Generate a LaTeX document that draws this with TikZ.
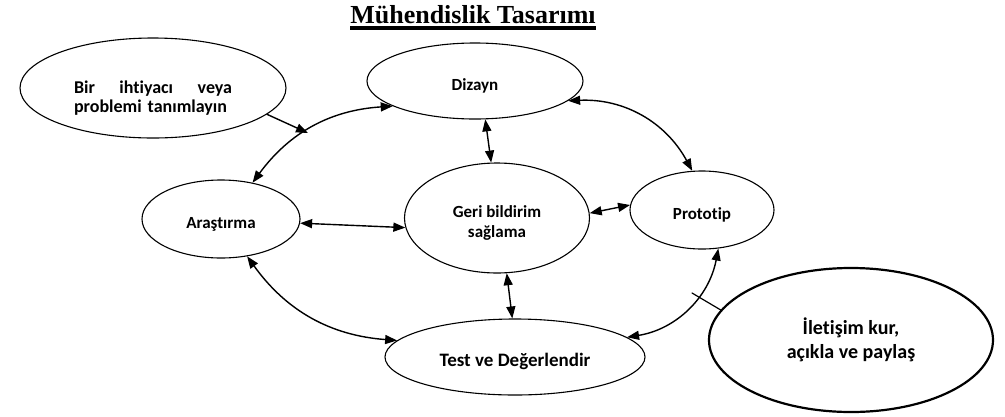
\documentclass[tikz,border=0pt]{standalone}
\usepackage{fontspec}
\setmainfont{Carlito}[RawFeature={-liga;-clig}]
\newfontfamily\baslikfont{Liberation Serif}
\usetikzlibrary{shapes.geometric,arrows.meta}

\begin{document}
\begin{tikzpicture}[x=1pt,y=-1pt,line join=round,line cap=round,>={Triangle[length=12pt,width=9pt]},
		kutu/.style={draw,ellipse,line width=1.1pt,inner sep=0pt,align=center,font=\bfseries\fontsize{17}{20}\selectfont},
		tek/.style={text height=19pt,text depth=0pt},
		bag/.style={line width=1.4pt}]
	\useasboundingbox (0,0) rectangle (1005,416);
	\node[inner sep=0pt,anchor=base,font=\baslikfont\bfseries\fontsize{26}{30}\selectfont] (baslik) at (473,23) {Mühendislik Tasarımı};
	\draw[line width=3.2pt,line cap=butt] ([yshift=-5pt]baslik.base west)--([yshift=-5pt]baslik.base east);
	% elipsler
	\node[kutu,minimum width=266pt,minimum height=100pt,align=left,text width=158pt,font=\bfseries\fontsize{18}{19}\selectfont] (ihtiyac) at (153,88) {\rule{0pt}{33pt}Bir\hfill ihtiyacı\hfill veya\\problemi tanımlayın};
	\node[kutu,tek,minimum width=216pt,minimum height=76pt] (dizayn) at (475,81) {Dizayn};
	\node[kutu,tek,minimum width=158pt,minimum height=78pt] (arastirma) at (221,219) {Araştırma};
	\node[kutu,minimum width=185pt,minimum height=110pt] (geri) at (497,218) {\rule{0pt}{21pt}Geri bildirim\\sağlama};
	\node[kutu,tek,minimum width=144pt,minimum height=78pt] (prototip) at (702,210) {Prototip};
	\node[kutu,tek,minimum width=260pt,minimum height=76pt,font=\bfseries\fontsize{19}{22}\selectfont] (test) at (515,357) {Test ve Değerlendir};
	\node[kutu,minimum width=284pt,minimum height=144pt,line width=2.2pt,font=\bfseries\fontsize{20}{24}\selectfont] (iletisim) at (851,340) {İletişim kur,\\açıkla ve paylaş};
	% oklar
	\coordinate (ucA) at (308,133);
	\coordinate (ucB) at (692,293);
	\draw[bag,->] (ihtiyac.-13)--(ucA);
	\draw[bag,<->] (arastirma.49) to[bend left=25] (dizayn.197);
	\draw[bag,<->] (dizayn.-75)--(geri.96);
	\draw[bag,<->] (dizayn.-12) to[bend left=32] (prototip.104);
	\draw[bag,<->] (arastirma.-3)--(geri.186);
	\draw[bag,<->] (geri.3)--(prototip.176);
	\draw[bag,<->] (arastirma.-55) to[bend right=25] (test.172);
	\draw[bag,<->] (geri.-80)--(test.94);
	\draw[bag,<->] (prototip.-67) to[bend left=35] (test.10);
	\draw[line width=1.2pt] (iletisim.167)--(ucB);
\end{tikzpicture}
\end{document}
